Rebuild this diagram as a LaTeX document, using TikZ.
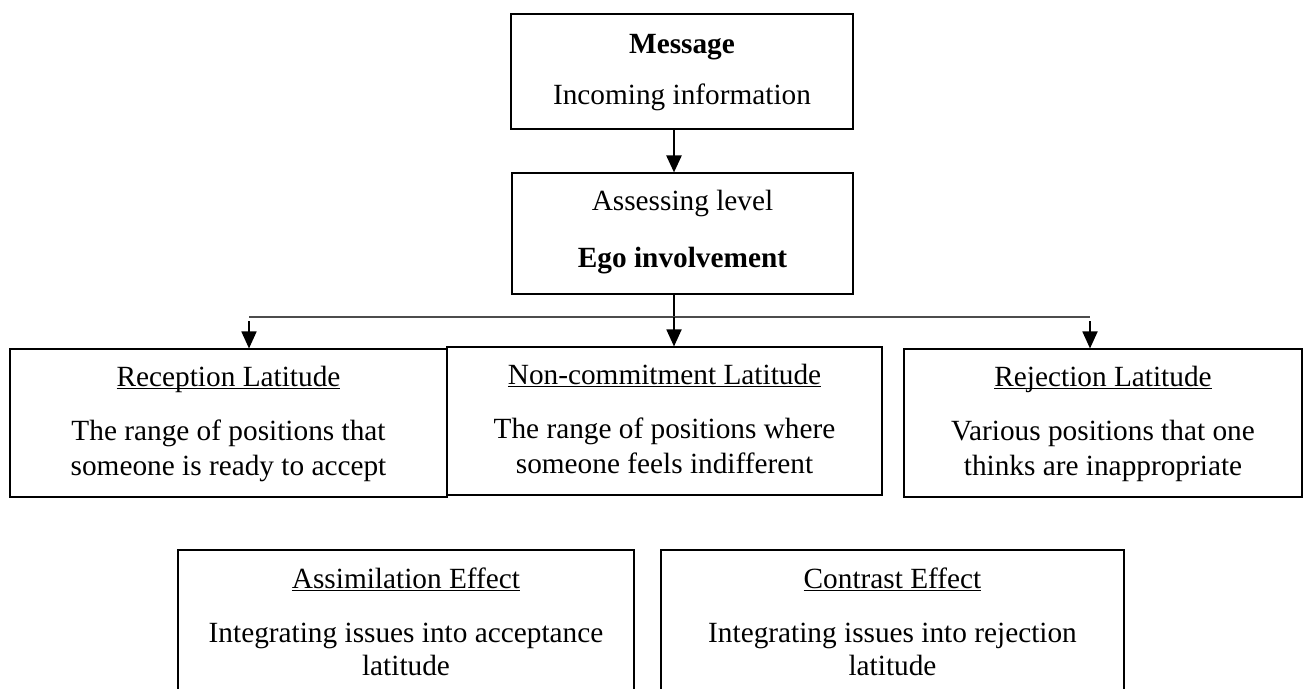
\documentclass[tikz,border=0pt]{standalone}
\usepackage{fontspec}
\setmainfont{Liberation Serif}
\usetikzlibrary{arrows.meta}
\newcommand\myul[1]{\setbox0=\hbox{#1}\rlap{\rule[-3.4pt]{\wd0}{1.8pt}}\box0}
\begin{document}
\begin{tikzpicture}[x=1pt,y=-1pt,
  box/.style={draw, line width=1.1pt, inner sep=0pt},
  txt/.style={anchor=base, inner sep=0pt, font=\fontsize{29.3}{34}\selectfont},
  arr/.style={line width=1.8pt, -{Triangle[width=15pt,length=17pt]}},
  bigarr/.style={line width=2.4pt, -{Triangle[width=15pt,length=17pt]}},
  stem/.style={line width=1.2pt},
  busline/.style={line width=1.9pt, draw=black!70}]
\clip (0,0) rectangle (1303,688);
% boxes
\node[box, minimum width=342pt, minimum height=115pt] (msg) at (682,71.5) {};
\node[box, minimum width=341pt, minimum height=121pt] (ass) at (682.5,233.5) {};
\node[box, minimum width=437pt, minimum height=148pt] (rec) at (228.5,423) {};
\node[box, minimum width=435pt, minimum height=148pt] (non) at (664.5,421) {};
\node[box, minimum width=398pt, minimum height=148pt] (rej) at (1103,423) {};
\node[box, minimum width=456pt, minimum height=250pt] (asm) at (406,675) {};
\node[box, minimum width=463pt, minimum height=250pt] (con) at (892.5,675) {};
% texts
\node[txt] (msg1) at (682,53) {\textbf{Message}};
\node[txt] (msg2) at (682,104) {Incoming information};
\node[txt] (ass1) at (682.5,210) {Assessing level};
\node[txt] (ass2) at (682.5,267) {\textbf{Ego involvement}};
\node[txt] (rec1) at (228.5,386) {\myul{Reception Latitude}};
\node[txt] (rec2) at (228.5,440) {The range of positions that};
\node[txt] (rec3) at (228.5,475) {someone is ready to accept};
\node[txt] (non1) at (664.5,384) {\myul{Non-commitment Latitude}};
\node[txt] (non2) at (664.5,438) {The range of positions where};
\node[txt] (non3) at (664.5,473) {someone feels indifferent};
\node[txt] (rej1) at (1103,386) {\myul{Rejection Latitude}};
\node[txt] (rej2) at (1103,440) {Various positions that one};
\node[txt] (rej3) at (1103,475) {thinks are inappropriate};
\node[txt] (asm1) at (406,588) {\myul{Assimilation Effect}};
\node[txt] (asm2) at (406,642) {Integrating issues into acceptance};
\node[txt] (asm3) at (406,675) {latitude};
\node[txt] (con1) at (892.5,588) {\myul{Contrast Effect}};
\node[txt] (con2) at (892.5,642) {Integrating issues into rejection};
\node[txt] (con3) at (892.5,675) {latitude};
% connectors
\coordinate (bus) at (674,317);
\coordinate (busL) at (249,317);
\coordinate (busR) at (1090,317);
\coordinate (dropL) at (249,321);
\coordinate (dropR) at (1090,321);
\draw[bigarr] (msg.south -| bus) -- (ass.north -| bus);
\draw[stem] (ass.south -| bus) -- (bus);
\draw[busline] (busL) -- (busR);
\draw[arr] (dropL) -- (rec.north -| dropL);
\draw[arr] (bus) -- (non.north -| bus);
\draw[arr] (dropR) -- (rej.north -| dropR);
\end{tikzpicture}
\end{document}
